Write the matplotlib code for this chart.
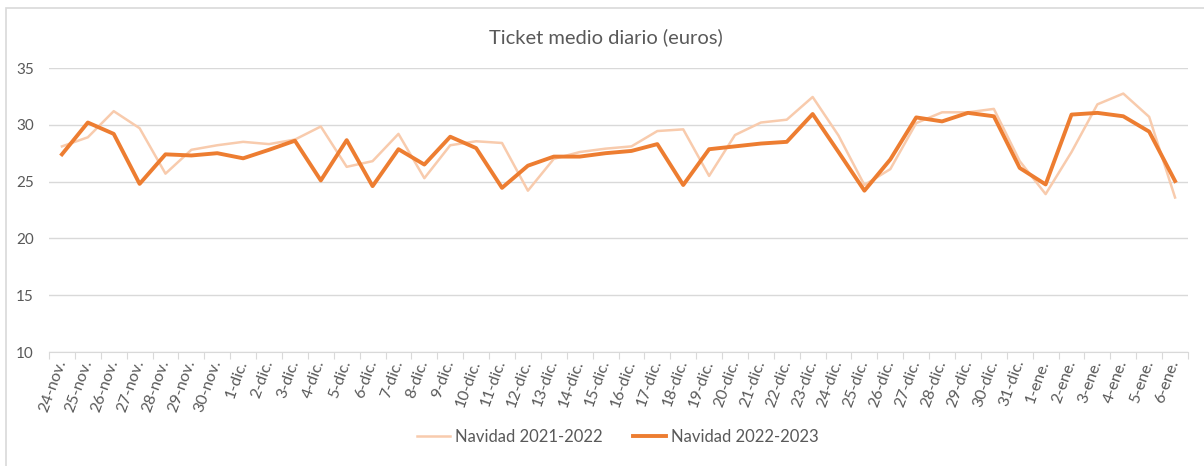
import matplotlib.pyplot as plt
from matplotlib.patches import Rectangle

dias = ['24-nov.', '25-nov.', '26-nov.', '27-nov.', '28-nov.', '29-nov.', '30-nov.']
dias += ['%d-dic.' % d for d in range(1, 32)]
dias += ['%d-ene.' % d for d in range(1, 7)]

navidad_21_22 = [28.1, 28.9, 31.2, 29.7, 25.7, 27.8, 28.2, 28.5, 28.3, 28.7,
                 29.85, 26.3, 26.8, 29.2, 25.3, 28.2, 28.55, 28.4, 24.2, 27.0,
                 27.6, 27.9, 28.1, 29.45, 29.6, 25.5, 29.1, 30.2, 30.45, 32.45,
                 29.05, 24.7, 26.1, 30.15, 31.1, 31.1, 31.4, 26.8, 23.9, 27.6,
                 31.8, 32.75, 30.7, 23.6]
navidad_22_23 = [27.4, 30.2, 29.2, 24.8, 27.4, 27.3, 27.5, 27.05, 27.8, 28.6,
                 25.1, 28.65, 24.6, 27.85, 26.5, 28.95, 27.95, 24.45, 26.4, 27.2,
                 27.2, 27.5, 27.7, 28.3, 24.7, 27.85, 28.1, 28.35, 28.5, 30.95,
                 27.6, 24.2, 26.95, 30.65, 30.3, 31.05, 30.75, 26.2, 24.75, 30.9,
                 31.05, 30.75, 29.4, 25.05]
yticks = [10, 15, 20, 25, 30, 35]

plt.rcParams['font.family'] = ['Lato', 'DejaVu Sans']
gris = '#595959'

fig = plt.figure(figsize=(12.04, 4.66), dpi=100)
# marco del area del grafico (cortado a la derecha y abajo)
fig.patches.append(Rectangle((6 / 1204, -0.1), 1.2, 1 - 8 / 466 + 0.1, transform=fig.transFigure,
                             fill=False, edgecolor='#D9D9D9', linewidth=1.2))
ax = fig.add_axes([49 / 1204, 1 - 352 / 466, (1188 - 49) / 1204, (352 - 68) / 466])

x = range(len(dias))
ax.plot(x, navidad_21_22, color='#F8CBAD', linewidth=1.8, label='Navidad 2021-2022')
ax.plot(x, navidad_22_23, color='#ED7D31', linewidth=2.8, label='Navidad 2022-2023')

ax.set_xlim(-0.5, len(dias) - 0.5)
ax.set_ylim(10, 35)
ax.set_yticks(yticks)
ax.grid(axis='y', color='#D9D9D9', linewidth=1)
ax.set_axisbelow(True)
for s in ['left', 'right', 'top']:
    ax.spines[s].set_visible(False)
ax.spines['bottom'].set_color('#D9D9D9')
ax.tick_params(axis='y', length=0, pad=11, labelsize=11, labelcolor=gris)

# marcas entre categorias, etiquetas centradas
ax.set_xticks([i - 0.5 for i in range(len(dias) + 1)], minor=False)
ax.set_xticklabels([])
ax.tick_params(axis='x', which='major', length=5, color='#D9D9D9')
ax.set_xticks(list(x), minor=True)
ax.set_xticklabels(dias, minor=True, rotation=70, ha='right', va='center',
                   rotation_mode='anchor', fontsize=11.5, color=gris)
ax.tick_params(axis='x', which='minor', length=0, pad=6)

fig.text(0.503, 1 - 37 / 466, 'Ticket medio diario (euros)', ha='center', va='center',
         fontsize=14.5, color=gris)
fig.legend(loc='center', bbox_to_anchor=(0.513, 1 - 437 / 466), ncol=2, frameon=False,
           fontsize=12, labelcolor=gris, handlelength=2.0, handletextpad=0.3,
           columnspacing=1.8)

fig.savefig('out.png', dpi=100)
